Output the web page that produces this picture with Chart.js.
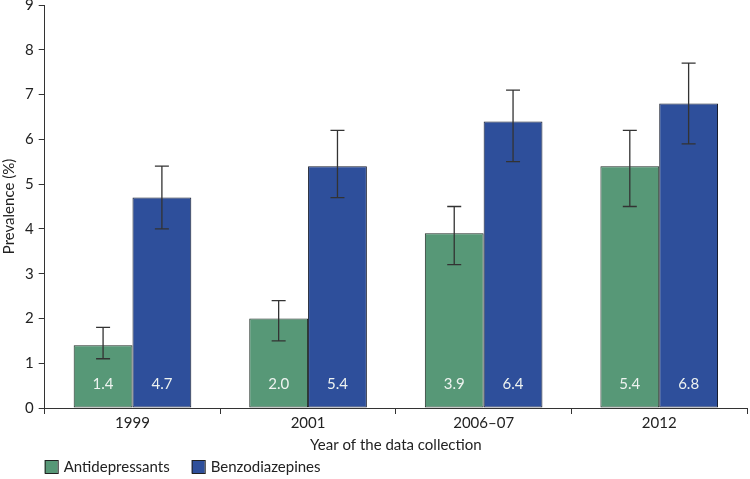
<!DOCTYPE html>
<html>
<head>
<meta charset="utf-8">
<script src="https://cdn.jsdelivr.net/npm/chart.js@4.4.0/dist/chart.umd.min.js"></script>
<style>
  body { margin: 0; background: #fff; }
  #wrap { width: 750px; height: 479px; }
</style>
</head>
<body>
<div id="wrap"><canvas id="myChart"></canvas></div>
<script>
// data
let years = ["1999", "2001", "2006\u201307", "2012"];
let antidepressants = [1.4, 2.0, 3.9, 5.4];
let antiLow = [1.1, 1.5, 3.2, 4.5];
let antiHigh = [1.8, 2.4, 4.5, 6.2];
let benzodiazepines = [4.7, 5.4, 6.4, 6.8];
let benzoLow = [4.0, 4.7, 5.5, 5.9];
let benzoHigh = [5.4, 6.2, 7.1, 7.7];

const FONT = "Lato, 'DejaVu Sans', sans-serif";
const errLow = [antiLow, benzoLow];
const errHigh = [antiHigh, benzoHigh];

// error bars + the value printed inside each bar
const barExtras = {
  id: 'barExtras',
  afterDatasetsDraw(chart) {
    let ctx = chart.ctx;
    let yScale = chart.scales.y;
    ctx.save();
    chart.data.datasets.forEach((ds, i) => {
      let meta = chart.getDatasetMeta(i);
      meta.data.forEach((bar, j) => {
        // value label
        ctx.fillStyle = '#eef3f0';
        ctx.font = '15px ' + FONT;
        ctx.textAlign = 'center';
        ctx.textBaseline = 'middle';
        ctx.fillText(ds.data[j].toFixed(1), bar.x, bar.base - 23);
        // error bar
        let yl = yScale.getPixelForValue(errLow[i][j]);
        let yh = yScale.getPixelForValue(errHigh[i][j]);
        ctx.strokeStyle = '#333';
        ctx.lineWidth = 1.3;
        ctx.beginPath();
        ctx.moveTo(bar.x, yl); ctx.lineTo(bar.x, yh);
        ctx.moveTo(bar.x - 7, yl); ctx.lineTo(bar.x + 7, yl);
        ctx.moveTo(bar.x - 7, yh); ctx.lineTo(bar.x + 7, yh);
        ctx.stroke();
      });
    });
    ctx.restore();
  }
};

// legend in one row under the axis title, lined up with the y axis
const bottomLegend = {
  id: 'bottomLegend',
  afterDraw(chart) {
    let ctx = chart.ctx;
    let x = chart.chartArea.left;
    let y = chart.height - 12;
    ctx.save();
    ctx.font = '15px ' + FONT;
    ctx.textBaseline = 'middle';
    ctx.textAlign = 'left';
    chart.data.datasets.forEach((ds) => {
      ctx.fillStyle = ds.backgroundColor;
      ctx.fillRect(x, y - 7, 13, 13);
      ctx.strokeStyle = '#222';
      ctx.lineWidth = 1;
      ctx.strokeRect(x + 0.5, y - 6.5, 13, 13);
      ctx.fillStyle = '#222';
      ctx.fillText(ds.label, x + 19, y);
      x += 19 + ctx.measureText(ds.label).width + 22;
    });
    ctx.restore();
  }
};

const ctx = document.getElementById('myChart');

let myChart = new Chart(ctx, {
  type: 'bar',
  data: {
    labels: years,
    datasets: [{
      label: 'Antidepressants',
      data: antidepressants,
      backgroundColor: '#579877',
      borderColor: '#1e2a24',
      borderWidth: 1,
      borderSkipped: false
    }, {
      label: 'Benzodiazepines',
      data: benzodiazepines,
      backgroundColor: '#2e4f9b',
      borderColor: '#161c2c',
      borderWidth: 1,
      borderSkipped: false
    }]
  },
  options: {
    responsive: true,
    maintainAspectRatio: false,
    animation: false,
    datasets: {
      bar: { categoryPercentage: 0.67, barPercentage: 1.0 }
    },
    layout: { padding: { top: 0, right: 3, left: 0, bottom: 25 } },
    plugins: {
      legend: { display: false },
      tooltip: { enabled: false }
    },
    scales: {
      x: {
        grid: { display: true, drawOnChartArea: false, drawTicks: true, tickLength: 6, color: '#333', offset: true },
        border: { display: true, color: '#333', width: 1 },
        ticks: { color: '#222', font: { family: FONT, size: 15 }, padding: 0 },
        title: { display: true, text: 'Year of the data collection', color: '#222', font: { family: FONT, size: 15 }, padding: { top: 4, bottom: 0 } }
      },
      y: {
        min: 0,
        max: 9,
        afterFit(scale) { scale.paddingTop = 5; },
        ticks: { stepSize: 1, color: '#222', font: { family: FONT, size: 15 }, padding: 5 },
        grid: { display: true, drawOnChartArea: false, drawTicks: true, tickLength: 6, color: '#333' },
        border: { display: true, color: '#333', width: 1 },
        title: { display: true, text: 'Prevalence (%)', color: '#222', font: { family: FONT, size: 15 }, padding: { top: 0, bottom: 2 } }
      }
    }
  },
  plugins: [barExtras, bottomLegend]
});
</script>
</body>
</html>
